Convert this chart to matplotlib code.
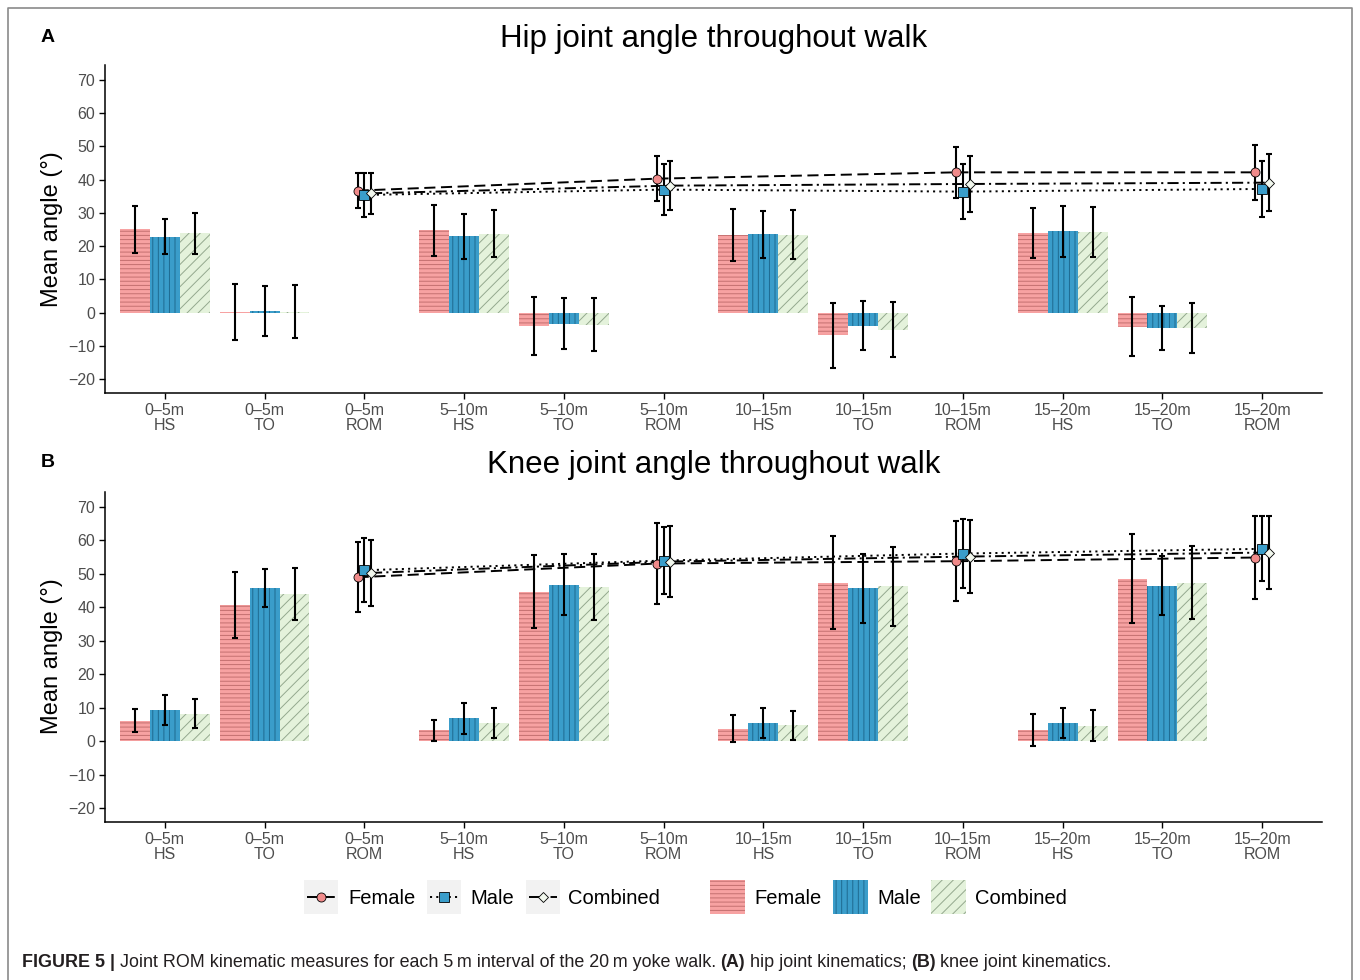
import matplotlib
matplotlib.use("Agg")
import matplotlib.pyplot as plt
from matplotlib.patches import Rectangle
from matplotlib.lines import Line2D
import numpy as np

plt.rcParams['font.family'] = ['Liberation Sans', 'DejaVu Sans']
plt.rcParams['hatch.linewidth'] = 0.7
plt.rcParams['lines.scale_dashes'] = False

# data, order: HS, TO, ROM for each 5 m interval
intervals = ["0–5m", "5–10m", "10–15m", "15–20m"]
measures = ["HS", "TO", "ROM"]
categories = [f"{iv}\n{m}" for iv in intervals for m in measures]

hip_female_mean = [25.0, 0.2, 36.7, 24.8, -4.1, 40.3, 23.3, -6.8, 42.2, 23.9, -4.2, 42.2]
hip_female_sd = [7.2, 8.4, 5.3, 7.7, 8.8, 6.8, 7.9, 9.8, 7.6, 7.5, 9.0, 8.2]
hip_male_mean = [22.8, 0.5, 35.4, 22.9, -3.3, 37.0, 23.5, -4.0, 36.4, 24.4, -4.6, 37.2]
hip_male_sd = [5.3, 7.6, 6.6, 6.8, 7.7, 7.6, 7.2, 7.4, 8.3, 7.8, 6.6, 8.4]
hip_comb_mean = [23.8, 0.3, 35.9, 23.7, -3.6, 38.2, 23.4, -5.1, 38.7, 24.2, -4.6, 39.1]
hip_comb_sd = [6.2, 8.0, 6.1, 7.1, 8.1, 7.4, 7.4, 8.4, 8.4, 7.6, 7.5, 8.6]

knee_female_mean = [6.1, 40.7, 49.0, 3.2, 44.7, 53.1, 3.7, 47.4, 53.8, 3.2, 48.6, 54.9]
knee_female_sd = [3.4, 9.8, 10.4, 3.2, 11.0, 12.1, 4.0, 14.0, 11.9, 4.8, 13.4, 12.5]
knee_male_mean = [9.4, 45.8, 51.1, 6.8, 46.8, 54.0, 5.4, 45.7, 56.1, 5.3, 46.5, 57.5]
knee_male_sd = [4.5, 5.8, 9.5, 4.6, 9.2, 9.9, 4.5, 10.4, 10.2, 4.5, 8.9, 9.7]
knee_comb_mean = [8.2, 43.9, 50.3, 5.5, 46.0, 53.7, 4.7, 46.3, 55.2, 4.6, 47.4, 56.4]
knee_comb_sd = [4.4, 7.8, 9.8, 4.5, 9.9, 10.7, 4.4, 11.8, 10.8, 4.6, 10.8, 10.8]

groups = ["Female", "Male", "Combined"]

# styles
FILL = {"Female": "#F7A2A2", "Male": "#3A9DCA", "Combined": "#E4F2DB"}
HATCH_COL = {"Female": "#C47070", "Male": "#1F6A90", "Combined": "#94A88E"}
HATCH = {"Female": "----", "Male": "|||", "Combined": "///"}
MARKER = {"Female": "o", "Male": "s", "Combined": "D"}
MFC = {"Female": "#F08A8A", "Male": "#3A9DCA", "Combined": "#F2F8EE"}
DASH = {"Female": (8, 4), "Male": (1.5, 3), "Combined": (8, 3, 1.5, 3)}
BAR_OFF = {"Female": -0.3, "Male": 0.0, "Combined": 0.3}
PT_OFF = {"Female": -0.067, "Male": 0.0, "Combined": 0.067}
TICK_COL = "#4D4D4D"

W, H = 1360, 980
fig = plt.figure(figsize=(W / 100, H / 100), dpi=100)


def px_box(left, top, right, bottom):
    return [left / W, 1 - bottom / H, (right - left) / W, (bottom - top) / H]


def draw_panel(ax, data):
    x = np.arange(1, len(categories) + 1)
    is_rom = np.array([c.endswith("ROM") for c in categories])
    for g in groups:
        mean = np.array(data[g][0])
        sd = np.array(data[g][1])
        bx = x[~is_rom] + BAR_OFF[g]
        ax.bar(bx, mean[~is_rom], width=0.3, color=FILL[g], edgecolor=HATCH_COL[g],
               hatch=HATCH[g], linewidth=0, zorder=2)
        ax.errorbar(bx, mean[~is_rom], yerr=sd[~is_rom], fmt='none', ecolor='black',
                    elinewidth=1.5, capsize=2.5, capthick=1.5, zorder=3)
        px = x[is_rom] + PT_OFF[g]
        ax.plot(px, mean[is_rom], color='black', lw=1.4, dashes=DASH[g], zorder=3)
        ax.errorbar(px, mean[is_rom], yerr=sd[is_rom], fmt='none', ecolor='black',
                    elinewidth=1.5, capsize=2.5, capthick=1.5, zorder=4)
        ax.plot(px, mean[is_rom], ls='none', marker=MARKER[g], mfc=MFC[g], mec='black',
                ms=6.5 if g != "Combined" else 5.5, mew=0.6, zorder=5)

    ax.set_xlim(0.4, 12.6)
    ax.set_ylim(-24.2, 74.5)
    ax.set_yticks(np.arange(-20, 71, 10))
    ax.set_xticks(x)
    ax.set_xticklabels(categories, linespacing=1.05)
    for s in ["top", "right"]:
        ax.spines[s].set_visible(False)
    for s in ["left", "bottom"]:
        ax.spines[s].set_linewidth(1.1)
    ax.tick_params(direction='out', length=4, width=1, color='black',
                   labelcolor=TICK_COL, labelsize=11.5, pad=3)


hip = {"Female": (hip_female_mean, hip_female_sd),
       "Male": (hip_male_mean, hip_male_sd),
       "Combined": (hip_comb_mean, hip_comb_sd)}
knee = {"Female": (knee_female_mean, knee_female_sd),
        "Male": (knee_male_mean, knee_male_sd),
        "Combined": (knee_comb_mean, knee_comb_sd)}

ax1 = fig.add_axes(px_box(105, 65, 1322, 393))
draw_panel(ax1, hip)
ax2 = fig.add_axes(px_box(105, 492, 1322, 822))
draw_panel(ax2, knee)

# overlay axes in pixel coordinates for titles, legend, caption
lax = fig.add_axes([0, 0, 1, 1], zorder=-1)
lax.set_xlim(0, W)
lax.set_ylim(H, 0)
lax.axis("off")

lax.text(713.5, 39, "Hip joint angle throughout walk", fontsize=22.5, ha='center', va='center')
lax.text(713.5, 465, "Knee joint angle throughout walk", fontsize=22.5, ha='center', va='center')
lax.text(48, 38, "A", fontsize=14, fontweight='bold', ha='center', va='center')
lax.text(48, 462, "B", fontsize=14, fontweight='bold', ha='center', va='center')
lax.text(52, 229, "Mean angle (°)", fontsize=17, rotation=90, ha='center', va='center')
lax.text(52, 656, "Mean angle (°)", fontsize=17, rotation=90, ha='center', va='center')

# frame around figure
lax.plot([8, 8, 1352, 1352], [H, 8, 8, H], color='#8A8A8A', lw=1.2, clip_on=False)

# legend: lines with points
ly = 897
for g, bx, tx in [("Female", 304, 348), ("Male", 427, 470), ("Combined", 526, 568)]:
    lax.add_patch(Rectangle((bx, ly - 17), 34, 34, facecolor='#F2F2F2', edgecolor='none'))
    lax.add_line(Line2D([bx + 3, bx + 31], [ly, ly], color='black', lw=1.4, dashes=DASH[g]))
    lax.plot([bx + 17], [ly], marker=MARKER[g], mfc=MFC[g], mec='black',
             ms=6.5 if g != "Combined" else 5.5, mew=0.6)
    lax.text(tx, ly + 1, g, fontsize=14.5, ha='left', va='center')

# legend: bars
for g, bx, tx in [("Female", 710, 754), ("Male", 833, 877), ("Combined", 931, 975)]:
    lax.add_patch(Rectangle((bx, ly - 17), 35, 34, facecolor=FILL[g], edgecolor=HATCH_COL[g],
                            hatch=HATCH[g], linewidth=0))
    lax.text(tx, ly + 1, g, fontsize=14.5, ha='left', va='center')

# caption with bold parts
renderer = fig.canvas.get_renderer()
pieces = [("FIGURE 5 |", 'bold'),
          ("Joint ROM kinematic measures for each 5\u2009m interval of the 20\u2009m yoke walk.", 'normal'),
          ("(A)", 'bold'), ("hip joint kinematics;", 'normal'),
          ("(B)", 'bold'), ("knee joint kinematics.", 'normal')]
cx = 22
for txt, wt in pieces:
    t = lax.text(cx, 962, txt, fontsize=12.9, fontweight=wt, ha='left', va='center', color='#231F20')
    cx += t.get_window_extent(renderer).width + 4.6

fig.savefig("out.png", dpi=100)
